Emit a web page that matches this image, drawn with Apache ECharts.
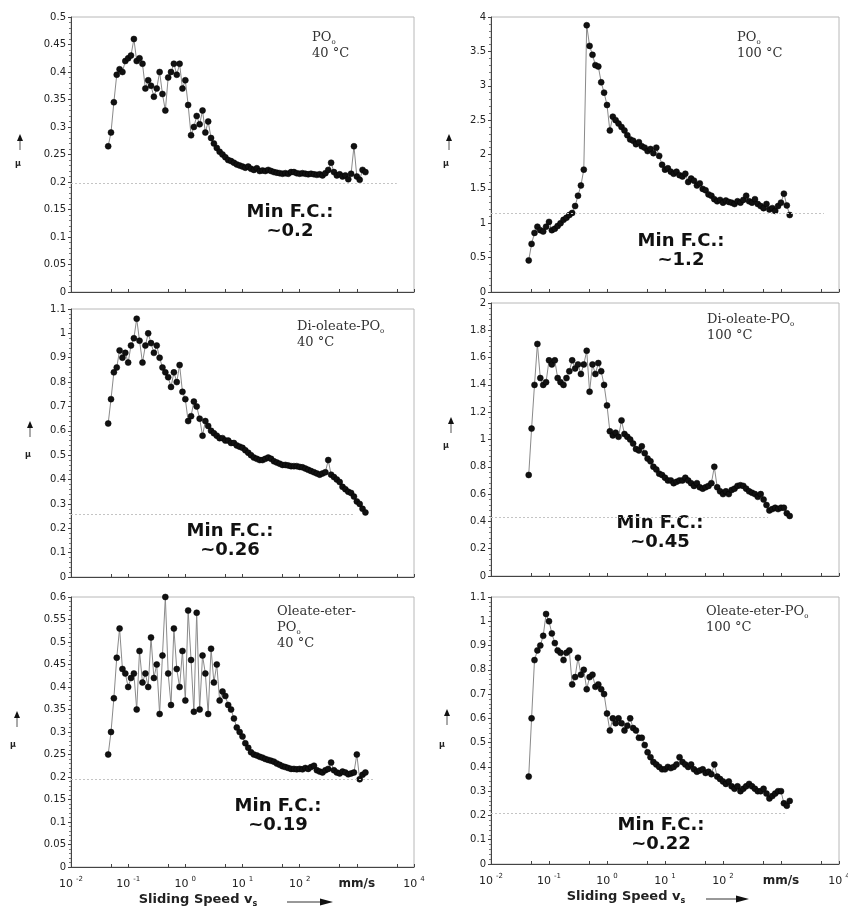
<!DOCTYPE html>
<html>
<head>
<meta charset="utf-8">
<title>Friction coefficient vs sliding speed</title>
<script src="https://cdn.jsdelivr.net/npm/echarts@6/dist/echarts.min.js"></script>
<style>
  html, body { margin: 0; padding: 0; background: #fff; }
  #chart { width: 848px; height: 922px; }
</style>
</head>
<body>
<div id="chart"></div>
<script>
// sliding speed steps in mm/s, shared by all six runs
const speeds = [
  0.0447, 0.0501, 0.0562, 0.0631, 0.0708, 0.0794, 0.0891,
  0.1, 0.112, 0.126, 0.141, 0.158, 0.178, 0.2, 0.224, 0.251, 0.282, 0.316, 0.355, 0.398, 0.447, 0.501, 0.562, 0.631, 0.708, 0.794, 0.891,
  1, 1.12, 1.26, 1.41, 1.58, 1.78, 2, 2.24, 2.51, 2.82, 3.16, 3.55, 3.98, 4.47, 5.01, 5.62, 6.31, 7.08, 7.94, 8.91,
  10, 11.2, 12.6, 14.1, 15.8, 17.8, 20, 22.4, 25.1, 28.2, 31.6, 35.5, 39.8, 44.7, 50.1, 56.2, 63.1, 70.8, 79.4, 89.1,
  100, 112, 126, 141, 158, 178, 200, 224, 251, 282, 316, 355, 398, 447, 501, 562, 631, 708, 794, 891,
  1000, 1122, 1259, 1413,
]

// friction coefficient mu
const muPO40 = [
  0.265, 0.29, 0.345, 0.395, 0.405, 0.40, 0.42,
  0.425, 0.43, 0.46, 0.42, 0.425, 0.415, 0.37, 0.385, 0.375, 0.355, 0.37, 0.40, 0.36, 0.33, 0.39, 0.40, 0.415, 0.395, 0.415, 0.37,
  0.385, 0.34, 0.285, 0.30, 0.32, 0.305, 0.33, 0.29, 0.31, 0.28, 0.27, 0.262, 0.255, 0.25, 0.245, 0.24, 0.238, 0.235, 0.232, 0.23,
  0.228, 0.226, 0.228, 0.224, 0.222, 0.225, 0.22, 0.221, 0.22, 0.222, 0.22, 0.218, 0.217, 0.216, 0.215, 0.216, 0.215, 0.218, 0.218, 0.216,
  0.215, 0.216, 0.215, 0.214, 0.215, 0.214, 0.213, 0.214, 0.212, 0.216, 0.222, 0.235, 0.218, 0.212, 0.214, 0.21, 0.212, 0.205, 0.215, 0.265,
  0.21, 0.204, 0.222, 0.218,
]
const muPO100 = [
  0.46, 0.7, 0.86, 0.95, 0.9, 0.88, 0.95,
  1.02, 0.9, 0.92, 0.96, 1.0, 1.05, 1.08, 1.12, 1.15, 1.25, 1.4, 1.55, 1.78, 3.88, 3.58, 3.45, 3.3, 3.28, 3.05, 2.9,
  2.72, 2.35, 2.55, 2.5, 2.45, 2.4, 2.35, 2.28, 2.22, 2.2, 2.15, 2.18, 2.12, 2.1, 2.05, 2.08, 2.02, 2.1, 1.98, 1.85,
  1.78, 1.8, 1.75, 1.72, 1.75, 1.7, 1.68, 1.72, 1.6, 1.65, 1.62, 1.55, 1.58, 1.5, 1.48, 1.42, 1.4, 1.35, 1.32, 1.34,
  1.3, 1.33, 1.31, 1.3, 1.28, 1.32, 1.3, 1.34, 1.4, 1.32, 1.3, 1.35, 1.28, 1.25, 1.22, 1.28, 1.2, 1.22, 1.18, 1.25,
  1.3, 1.43, 1.26, 1.12,
]
const muDi40 = [
  0.63, 0.73, 0.84, 0.86, 0.93, 0.9, 0.92,
  0.88, 0.95, 0.98, 1.06, 0.97, 0.88, 0.95, 1.0, 0.96, 0.92, 0.95, 0.9, 0.86, 0.84, 0.82, 0.78, 0.84, 0.8, 0.87, 0.76,
  0.73, 0.64, 0.66, 0.72, 0.7, 0.65, 0.58, 0.64, 0.62, 0.6, 0.59, 0.58, 0.57, 0.57, 0.56, 0.56, 0.55, 0.55, 0.54, 0.535,
  0.53, 0.52, 0.51, 0.5, 0.49, 0.485, 0.48, 0.48, 0.485, 0.49, 0.485, 0.475, 0.47, 0.465, 0.46, 0.46, 0.458, 0.455, 0.455, 0.455,
  0.452, 0.45, 0.445, 0.44, 0.435, 0.43, 0.425, 0.42, 0.425, 0.43, 0.48, 0.42, 0.41, 0.4, 0.39, 0.37, 0.36, 0.35, 0.345, 0.33,
  0.31, 0.3, 0.28, 0.265,
]
const muDi100 = [
  0.74, 1.08, 1.4, 1.7, 1.45, 1.4, 1.42,
  1.58, 1.55, 1.58, 1.45, 1.42, 1.4, 1.45, 1.5, 1.58, 1.52, 1.55, 1.48, 1.55, 1.65, 1.35, 1.55, 1.48, 1.56, 1.5, 1.4,
  1.25, 1.06, 1.03, 1.05, 1.02, 1.14, 1.04, 1.02, 1.0, 0.97, 0.93, 0.92, 0.95, 0.9, 0.86, 0.84, 0.8, 0.78, 0.75, 0.74,
  0.72, 0.7, 0.7, 0.68, 0.69, 0.7, 0.7, 0.72, 0.7, 0.68, 0.66, 0.68, 0.65, 0.64, 0.65, 0.66, 0.68, 0.8, 0.65, 0.62,
  0.6, 0.62, 0.6, 0.63, 0.64, 0.66, 0.665, 0.66, 0.64, 0.62, 0.61, 0.6, 0.58, 0.6, 0.56, 0.52, 0.48, 0.49, 0.5, 0.49,
  0.5, 0.5, 0.46, 0.44,
]
const muOl40 = [
  0.25, 0.30, 0.375, 0.465, 0.53, 0.44, 0.43,
  0.40, 0.42, 0.43, 0.35, 0.48, 0.41, 0.43, 0.40, 0.51, 0.42, 0.45, 0.34, 0.47, 0.60, 0.43, 0.36, 0.53, 0.44, 0.40, 0.48,
  0.37, 0.57, 0.46, 0.345, 0.565, 0.35, 0.47, 0.43, 0.34, 0.485, 0.41, 0.45, 0.37, 0.39, 0.38, 0.36, 0.35, 0.33, 0.31, 0.30,
  0.29, 0.275, 0.265, 0.255, 0.25, 0.248, 0.245, 0.243, 0.24, 0.238, 0.236, 0.234, 0.23, 0.227, 0.224, 0.222, 0.22, 0.218, 0.218, 0.217,
  0.218, 0.217, 0.22, 0.218, 0.222, 0.225, 0.215, 0.212, 0.21, 0.215, 0.218, 0.232, 0.215, 0.21, 0.208, 0.212, 0.21, 0.206, 0.208, 0.21,
  0.25, 0.195, 0.205, 0.21,
]
const muOl100 = [
  0.36, 0.6, 0.84, 0.88, 0.9, 0.94, 1.03,
  1.0, 0.95, 0.91, 0.88, 0.87, 0.84, 0.87, 0.88, 0.74, 0.77, 0.85, 0.78, 0.8, 0.72, 0.77, 0.78, 0.73, 0.74, 0.72, 0.7,
  0.62, 0.55, 0.6, 0.58, 0.6, 0.58, 0.55, 0.57, 0.6, 0.56, 0.55, 0.52, 0.52, 0.49, 0.46, 0.44, 0.42, 0.41, 0.4, 0.39,
  0.39, 0.4, 0.395, 0.4, 0.41, 0.44, 0.42, 0.41, 0.4, 0.41, 0.39, 0.38, 0.385, 0.39, 0.375, 0.38, 0.37, 0.41, 0.36, 0.35,
  0.34, 0.33, 0.34, 0.32, 0.31, 0.32, 0.3, 0.31, 0.32, 0.33, 0.32, 0.31, 0.3, 0.3, 0.31, 0.29, 0.27, 0.28, 0.29, 0.3,
  0.3, 0.25, 0.24, 0.26,
]

const runs = [muPO40, muPO100, muDi40, muDi100, muOl40, muOl100]
const sampleLines = [
  ['PO|o', '40 °C'],
  ['PO|o', '100 °C'],
  ['Di-oleate-PO|o', '40 °C'],
  ['Di-oleate-PO|o', '100 °C'],
  ['Oleate-eter-', 'PO|o', '40 °C'],
  ['Oleate-eter-PO|o', '100 °C'],
]
const minLabels = ['~0.2', '~1.2', '~0.26', '~0.45', '~0.19', '~0.22']
// dotted min level and where it stops (mm/s)
const minLevels = [0.198, 1.15, 0.256, 0.427, 0.194, 0.208]
const minLineEnds = [5000, 5500, 900, 600, 2000, 1200]
// y axis ranges
const yMax = [0.5, 4, 1.1, 2, 0.6, 1.1]
const yStep = [0.05, 0.5, 0.1, 0.2, 0.05, 0.1]
// x ticks: decades plus the 5x marks
const xTickValues = [0.01, 0.05, 0.1, 0.5, 1, 5, 10, 50, 100, 500, 1000, 5000, 10000]

// panel placement (px)
const panels = [
  { left: 71, top: 17, width: 343, height: 275, title: [312, 30], fc: [290, 222], arrow: [20, 134], mu: [18, 164] },
  { left: 491, top: 17, width: 348, height: 275, title: [737, 30], fc: [681, 251], arrow: [449, 134], mu: [446, 164] },
  { left: 71, top: 309, width: 343, height: 268, title: [297, 319], fc: [230, 541], arrow: [30, 421], mu: [28, 455] },
  { left: 491, top: 303, width: 348, height: 273, title: [707, 312], fc: [660, 533], arrow: [451, 417], mu: [446, 446] },
  { left: 71, top: 597, width: 343, height: 270, title: [277, 604], fc: [278, 816], arrow: [17, 711], mu: [13, 745] },
  { left: 491, top: 597, width: 348, height: 267, title: [706, 604], fc: [661, 835], arrow: [447, 709], mu: [442, 745] },
]

const SANS = 'DejaVu Sans, Liberation Sans, Arial, sans-serif'
const SERIF = 'DejaVu Serif, Liberation Serif, Times New Roman, serif'

function sampleText(lines) {
  return lines
    .map((l) => {
      let [a, b] = l.split('|')
      return '{t|' + a + '}' + (b ? '{s|' + b + '}' : '')
    })
    .join('\n')
}

function upArrow(x, y) {
  return [
    { type: 'line', silent: true, shape: { x1: x, y1: y + 4, x2: x, y2: y + 16 }, style: { stroke: '#555', lineWidth: 1 } },
    { type: 'polygon', silent: true, shape: { points: [[x, y], [x - 3, y + 7], [x + 3, y + 7]] }, style: { fill: '#111' } },
  ]
}

function rightArrow(x1, x2, y) {
  return [
    { type: 'line', silent: true, shape: { x1: x1, y1: y, x2: x2 - 6, y2: y }, style: { stroke: '#333', lineWidth: 1 } },
    { type: 'polygon', silent: true, shape: { points: [[x2, y], [x2 - 13, y - 3.5], [x2 - 13, y + 3.5]] }, style: { fill: '#111' } },
  ]
}

let chart = echarts.init(document.getElementById('chart'), null, { renderer: 'canvas' })

let grids = [], xAxes = [], yAxes = [], series = [], graphic = []

panels.forEach((p, i) => {
  let bottomRow = i >= 4
  grids.push({
    left: p.left, top: p.top, width: p.width, height: p.height,
    show: true, borderColor: '#b8b8b8', borderWidth: 1, backgroundColor: '#fff',
    containLabel: false, outerBoundsMode: 'none',
  })
  xAxes.push({
    type: 'log', logBase: 10, gridIndex: i, min: 0.01, max: 10000, splitNumber: 6,
    axisLine: { lineStyle: { color: '#444', width: 1 } },
    axisTick: { show: true, inside: true, length: 3, customValues: xTickValues, lineStyle: { color: '#444' } },
    splitLine: { show: false },
    axisLabel: {
      show: bottomRow, margin: 9, color: '#222',
      formatter(v) {
        let e = Math.round(Math.log10(v))
        if (e === 3) return '{u|mm/s}'
        return '{b|10}{e|' + e + '}'
      },
      rich: {
        b: { fontFamily: SANS, fontSize: 11, color: '#222', lineHeight: 16 },
        e: { fontFamily: SANS, fontSize: 7, color: '#222', verticalAlign: 'top', padding: [0, 0, 0, 3], lineHeight: 16 },
        u: { fontFamily: SANS, fontSize: 12, fontWeight: 'bold', color: '#222', lineHeight: 16 },
      },
    },
  })
  yAxes.push({
    type: 'value', gridIndex: i, min: 0, max: yMax[i], interval: yStep[i],
    axisLine: { show: true, lineStyle: { color: '#444', width: 1 } },
    axisTick: { show: true, length: 3, lineStyle: { color: '#444' } },
    minorTick: { show: true, splitNumber: 5, length: 2, lineStyle: { color: '#777' } },
    splitLine: { show: false },
    axisLabel: { fontFamily: SANS, fontSize: 10, color: '#222', margin: 5 },
  })
  series.push({
    type: 'line', xAxisIndex: i, yAxisIndex: i,
    data: speeds.map((s, k) => [s, runs[i][k]]),
    symbol: 'circle', symbolSize: 6, showAllSymbol: true,
    itemStyle: { color: '#111', borderColor: '#000', borderWidth: 0.5 },
    lineStyle: { color: '#8a8a8a', width: 1 },
    animation: false,
    markLine: {
      silent: true, symbol: 'none', animation: false,
      label: { show: false },
      lineStyle: { color: '#c4c4c4', type: [2, 2], width: 1 },
      data: [[{ coord: [0.01, minLevels[i]] }, { coord: [minLineEnds[i], minLevels[i]] }]],
    },
  })

  // sample name + temperature
  graphic.push({
    type: 'text', silent: true, x: p.title[0], y: p.title[1],
    style: {
      text: sampleText(sampleLines[i]),
      rich: {
        t: { fontFamily: SERIF, fontSize: 13, fill: '#333', lineHeight: 16 },
        s: { fontFamily: SERIF, fontSize: 7, fill: '#333', verticalAlign: 'bottom', lineHeight: 16 },
      },
    },
  })
  // Min F.C. note
  graphic.push({
    type: 'text', silent: true, x: p.fc[0], y: p.fc[1],
    style: {
      text: 'Min F.C.:\n' + minLabels[i], align: 'center', verticalAlign: 'middle',
      font: 'bold 18px ' + SANS, fill: '#111', lineHeight: 19,
    },
  })
  // y axis name: arrow and mu
  graphic.push(...upArrow(p.arrow[0], p.arrow[1]))
  graphic.push({
    type: 'text', silent: true, x: p.mu[0], y: p.mu[1],
    style: { text: 'μ', font: 'bold 8px ' + SANS, fill: '#222', align: 'center', verticalAlign: 'middle' },
  })

  if (bottomRow) {
    let cx = i === 4 ? 198 : 626
    let cy = i === 4 ? 900 : 897
    graphic.push({
      type: 'text', silent: true, x: cx, y: cy,
      style: {
        text: '{b|Sliding Speed v}{s|s}', align: 'center', verticalAlign: 'middle',
        rich: {
          b: { fontFamily: SANS, fontSize: 13, fontWeight: 'bold', fill: '#222', lineHeight: 16 },
          s: { fontFamily: SANS, fontSize: 8, fontWeight: 'bold', fill: '#222', verticalAlign: 'bottom', lineHeight: 16 },
        },
      },
    })
    graphic.push(...(i === 4 ? rightArrow(287, 333, 902) : rightArrow(706, 749, 899)))
  }
})

chart.setOption({
  animation: false,
  backgroundColor: '#fff',
  grid: grids,
  xAxis: xAxes,
  yAxis: yAxes,
  series: series,
  graphic: graphic,
})
</script>
</body>
</html>
